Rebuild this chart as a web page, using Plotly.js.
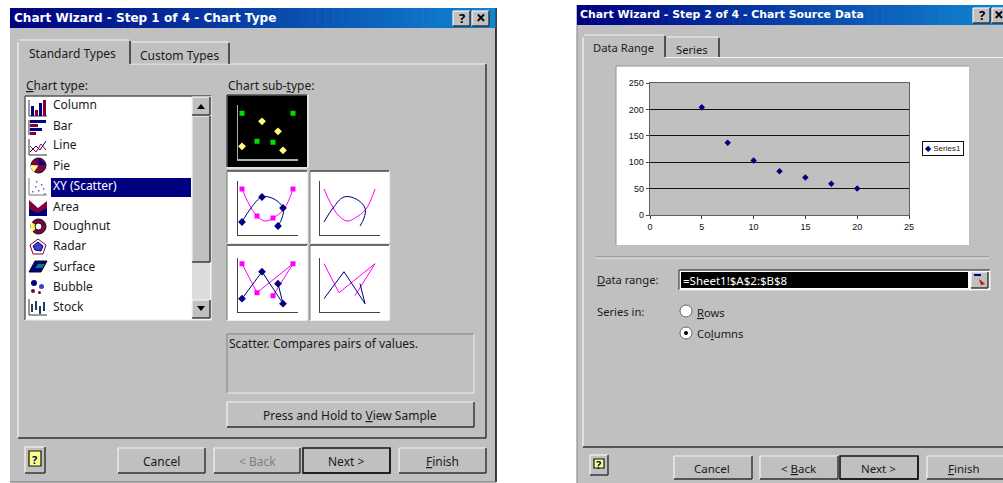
<!DOCTYPE html>
<html><head><meta charset="utf-8">
<script src="https://cdn.plot.ly/plotly-3.0.0.min.js"></script>
<style>html,body{margin:0;padding:0;background:#fff}#c{width:1003px;height:483px}</style>
</head><body><div id="c"></div>
<script>
// ---- data ----
const seriesName = "Series1";
const xValues = [5, 7.5, 10, 12.5, 15, 17.5, 20];
const yValues = [204, 137, 103, 83, 71, 59, 50];
const chartTypes = ["Column","Bar","Line","Pie","XY (Scatter)","Area","Doughnut","Radar","Surface","Bubble","Stock"];
const chartTypeY = [105,125,145,165,185,206,226,246,266,286,306];
const xTicks = [0,5,10,15,20,25];
const yTicks = [0,50,100,150,200,250];
// sub-type thumbnails
const pinkX = [4,19,35,55], pinkY = [46,19,17,46];
const goldX = [4,24,40,45], goldY = [13,38,28,9];
const curveNavyX = [4,13,24,36,45,44,40], curveNavyY = [13,27,38,36,27,17,9];
const curvePinkX = [4,11,19,27,35,46,55], curvePinkY = [46,31,19,14,17,26,46];
const zigNavyX = [4,24,45,40], zigNavyY = [13,40,8,28];
const zigPinkX = [4,19,55,35], zigPinkY = [48,19,48,16];

// ---- helpers ----
const W = 1003, H = 483, F = '"Noto Sans", sans-serif';
const px = x => x / W, py = y => 1 - y / H;
const shapes = [], annotations = [];
function rect(x0,y0,x1,y1,fill,line,lw){ shapes.push({type:'rect',xref:'paper',yref:'paper',layer:'below',
  x0:px(x0),x1:px(x1),y0:py(y1),y1:py(y0),fillcolor:fill||'rgba(0,0,0,0)',line:{color:line||'rgba(0,0,0,0)',width:line?(lw||1):0}}); }
function ln(x0,y0,x1,y1,c,w){ shapes.push({type:'line',xref:'paper',yref:'paper',layer:'below',
  x0:px(x0),x1:px(x1),y0:py(y0),y1:py(y1),line:{color:c,width:w||1}}); }
function circ(x0,y0,x1,y1,fill,line){ shapes.push({type:'circle',xref:'paper',yref:'paper',layer:'below',
  x0:px(x0),x1:px(x1),y0:py(y1),y1:py(y0),fillcolor:fill,line:{color:line||'rgba(0,0,0,0)',width:line?1:0}}); }
function poly(pts,fill,line,closed=true){ let d=pts.map((p,i)=>(i?'L':'M')+px(p[0])+','+py(p[1])).join(' ')+(closed?' Z':'');
  shapes.push({type:'path',xref:'paper',yref:'paper',layer:'below',path:d,fillcolor:fill||'rgba(0,0,0,0)',line:{color:line||'rgba(0,0,0,0)',width:line?1:0}}); }
function txt(x,y,t,o={}){ annotations.push({xref:'paper',yref:'paper',x:px(x),y:py(y),text:t,showarrow:false,
  xanchor:o.anchor||'left',yanchor:'middle',borderpad:0,font:{family:o.family||F,size:o.size||12,color:o.color||'#1a1a1a'}}); }
function raised(x0,y0,x1,y1,strong){ rect(x0,y0,x1,y1,'#c0c0c0');
  ln(x0,y0,x1,y0,'#f4f4f4',1.2); ln(x0,y0,x0,y1,'#f4f4f4',1.2);
  ln(x0,y1,x1,y1,'#303030',1.4); ln(x1,y0,x1,y1,'#303030',1.4);
  if(strong) rect(x0,y0,x1,y1,null,'#111',1.6); }
function sunken(x0,y0,x1,y1,fill){ rect(x0,y0,x1,y1,fill||'#fff');
  ln(x0,y0,x1,y0,'#555',1.4); ln(x0,y0,x0,y1,'#555',1.4);
  ln(x0,y1,x1,y1,'#eee',1.2); ln(x1,y0,x1,y1,'#eee',1.2); }
function gradientBar(x0,x1,y0,y1){ const n=60, a=[0,0,128], b=[16,132,208];
  for(let i=0;i<n;i++){ const t=i/(n-1); const c=a.map((v,k)=>Math.round(v+(b[k]-v)*t));
    rect(x0+(x1-x0)*i/n,y0,x0+(x1-x0)*(i+1)/n+0.5,y1,`rgb(${c})`); } }
function helpIcon(x0,y0,x1,y1){ raised(x0,y0,x1,y1); rect(x0+4,y0+4,x1-4,y1-7,'#ffff80','#111',1.2);
  txt((x0+x1)/2,(y0+y1)/2-1,'<b>?</b>',{anchor:'center',size:11,color:'#000080'}); }
function titleBtns(a,b,y0,y1,bw){ raised(a,y0,a+17,y1); txt(a+8.5,(y0+y1)/2,'<b>?</b>',{anchor:'center',size:13,color:'#000'});
  raised(b,y0,b+(bw||17),y1); txt(b+(bw||17)/2,(y0+y1)/2-1,'<b>×</b>',{anchor:'center',size:17,color:'#000'}); }

// ---- left dialog ----
rect(10,8,496,482,'#c0c0c0'); ln(496,8,496,482,'#111',1.6); ln(10,482,496,482,'#666',1);
gradientBar(10,495,8,28);
txt(13,18,'<b>Chart Wizard - Step 1 of 4 - Chart Type</b>',{size:12.05,color:'#fff',family:'"DejaVu Sans"'});
titleBtns(453,472,11,26);
raised(18,64,486,438);
// tabs
rect(18,40,130,66,'#c0c0c0'); ln(18,42,18,66,'#f4f4f4',1.2); ln(19,40,129,40,'#f4f4f4',1.2); ln(130,41,130,64,'#222',1.4);
rect(131,42,229,63.4,'#c0c0c0'); ln(132,42,228,42,'#f4f4f4',1.2); ln(229,43,229,64,'#222',1.4);
txt(28,54,'Standard Types'); txt(139,55,'Custom Types');
txt(25,85,'<u>C</u>hart type:'); txt(227,85,'Chart sub-<u>t</u>ype:');
// list box
sunken(25,96,211,320);
rect(51,178,191,197,'#000080');
chartTypes.forEach((n,i)=>txt(52,chartTypeY[i],n,{color:i===4?'#fff':'#1a1a1a'}));
// scrollbar
rect(192,97,210,318,'#dcdcdc'); raised(192,116,210,262);
raised(192,97,210,115); poly([[197,109],[205,109],[201,104]],'#000');
raised(192,300,210,318); poly([[197,306],[205,306],[201,311]],'#000');
// list icons
const navy='#000080', mar='#800040';
ln(29,100,29,116,'#333'); ln(29,116,47,116,'#333'); [[31,106,navy],[35,110,mar],[39,103,navy],[43,100,mar]].forEach(b=>rect(b[0],b[1],b[0]+3,116,b[2]));
ln(29,120,29,135,'#333'); rect(30,120,46,123,navy); rect(30,124,38,127,mar); rect(30,128,42,131,navy); rect(30,132,36,135,mar);
ln(29,139,29,155,'#333'); ln(29,155,47,155,'#333'); poly([[30,152],[36,146],[40,150],[46,141]],null,navy,false); poly([[30,146],[36,152],[41,144],[46,150]],null,'#c00040',false);
circ(31,158,46,173,mar,'#111'); poly([[38.5,165.5],[38.5,158],[46,165]],navy); poly([[38.5,165.5],[31,165],[31,168],[34,172]],'#ffff80');
ln(29,178,29,195,'#777'); ln(29,195,47,195,'#777');
[[32,191],[35,186],[38,190],[41,184],[43,188],[36,181],[44,193]].forEach(p=>rect(p[0],p[1],p[0]+1.4,p[1]+1.4,'#5060c0'));
poly([[29,216],[29,200],[38,208],[47,201],[47,216]],mar); poly([[29,216],[29,209],[38,213],[47,208],[47,216]],navy);
circ(31,219,46,234,mar,'#111'); poly([[38.5,226.5],[31,222],[31,233]],'#ffff60'); circ(35,223,42,230,'#fff','#111');
poly([[38,239],[46,245],[43,254],[33,254],[30,245]],null,'#800040'); poly([[38,242],[43,246],[41,251],[35,250],[33,246]],'#4040c0','#000080');
poly([[29,272],[35,261],[47,261],[41,272]],navy,'#111'); poly([[35,268],[38,264],[45,264],[42,268]],'#008080');
circ(31,280,37,286,navy); circ(39,284,44,289,'#4040c0'); circ(31,289,35,293,mar); circ(38,291,41,294,mar);
ln(29,299,29,315,'#333'); ln(29,315,47,315,'#333'); [[32,304,312],[36,301,310],[40,306,314],[44,302,311]].forEach(b=>rect(b[0]-1,b[1],b[0]+1,b[2],'#204060'));
// thumbnail frames
rect(227,95,307,167,'#000'); ln(227,95,307,95,'#555',1.5); ln(227,95,227,167,'#555',1.5); ln(227,168,307,168,'#f0f0f0',1.4); ln(308,95,308,168,'#f0f0f0',1.4);
[[227,171,307,243],[310,171,389,243],[227,245,307,320],[310,245,389,320]].forEach(b=>{ rect(b[0],b[1],b[2],b[3],'#fff');
  ln(b[0],b[1],b[2],b[1],'#444',1.4); ln(b[0],b[1],b[0],b[3],'#777',1); ln(b[0],b[3]+.5,b[2],b[3]+.5,'#eee',1.2); ln(b[2]+.5,b[1],b[2]+.5,b[3],'#eee',1.2); });
// description & preview
rect(227,334,474,393,'#c0c0c0'); ln(227,334,474,334,'#808080',1); ln(227,334,227,393,'#808080',1); ln(227,393,474,393,'#eee',1); ln(474,334,474,393,'#eee',1);
txt(228,343,'Scatter. Compares pairs of values.');
raised(227,402,474,427); txt(350,415,'Press and Hold to <u>V</u>iew Sample',{anchor:'center'});
// buttons
helpIcon(25,447,45,473);
raised(118,448,205,473); txt(161.5,461,'Cancel',{anchor:'center'});
raised(214,448,300,473); txt(257,461,'&lt; Back',{anchor:'center',color:'#808080'});
raised(303,448,390,473,true); txt(346,461,'Next &gt;',{anchor:'center'});
raised(399,448,486,473); txt(442,461,'<u>F</u>inish',{anchor:'center'});

// ---- right dialog ----
rect(577,5,1003,483,'#c0c0c0'); ln(577,5,577,483,'#909090',1.2);
gradientBar(577,1003,5,25);
txt(579,15,'<b>Chart Wizard - Step 2 of 4 - Chart Source Data</b>',{size:10.9,color:'#fff',family:'"DejaVu Sans"'});
titleBtns(973,992,8,23,13);
ln(583,57.5,1003,57.5,'#f4f4f4',1.2); ln(583,57.5,583,447,'#f4f4f4',1.2); ln(583,447,1003,447,'#303030',1.4);
rect(583,35,665,59,'#c0c0c0'); ln(583,37,583,59,'#f4f4f4',1.2); ln(584,35,664,35,'#f4f4f4',1.2); ln(665,36,665,57,'#222',1.4);
rect(666,37,719,57,'#c0c0c0'); ln(667,37,718,37,'#f4f4f4',1.2); ln(719,38,719,57,'#222',1.4);
txt(592,48,'Data Range',{size:11.2}); txt(675,49,'Series',{size:11.2});
rect(616,66,969,245,'#fff'); ln(616,66,969,66,'#909090',1); ln(616,66,616,245,'#909090',1);
// sample plot background (in data units)
shapes.push({type:'rect',xref:'x',yref:'y',layer:'below',x0:0,x1:25,y0:0,y1:250,fillcolor:'#c0c0c0',line:{width:0}});
// legend box as text
annotations.push({xref:'paper',yref:'paper',x:px(942.5),y:py(148.5),xanchor:'center',yanchor:'middle',showarrow:false,
  text:'<span style="color:#000080">◆</span> '+seriesName,bgcolor:'#fff',bordercolor:'#111',borderwidth:1,borderpad:2,
  font:{family:'"Liberation Sans"',size:8,color:'#222'}});
ln(596,257,989,257,'#808080',1); ln(596,258,989,258,'#eee',1);
txt(596,279,'<u>D</u>ata range:',{size:11.2});
sunken(679,270,990,290,'#fff'); rect(681,272,968,288,'#000');
txt(682,280,'=Sheet1!$A$2:$B$8',{color:'#fff',size:11.5});
raised(971,272,988,288); ln(974,275,981,275,navy,2); poly([[979,279],[985,284],[981,285]],'#e00000');
txt(596,311,'Series in:',{size:11.2});
circ(680,305,692,317,'#fff','#666');
circ(680,327,692,339,'#fff','#666'); circ(684,331,688,335,'#000');
txt(696,312,'<u>R</u>ows',{size:11.2}); txt(696,333,'Co<u>l</u>umns',{size:11.2});
helpIcon(590,455,608,475);
raised(674,456,752,479); txt(712,468,'Cancel',{anchor:'center',size:11.5});
raised(760,456,838,479); txt(799,468,'&lt; <u>B</u>ack',{anchor:'center',size:11.5});
raised(840,456,918,479,true); txt(878,468,'Next &gt;',{anchor:'center',size:11.5});
raised(927,456,1004,479); txt(964,468,'<u>F</u>inish',{anchor:'center',size:11.5});

// ---- axes & traces ----
const base = {showgrid:false,zeroline:false,showticklabels:false,ticks:'',showline:true,fixedrange:true};
function thumbAxes(n,x0,yOrigin,axisColor){
  const xa='xaxis'+n, ya='yaxis'+n;
  layout[xa]={...base,domain:[px(x0),px(x0+60)],range:[0,60],anchor:'y'+n,linecolor:axisColor,linewidth:1.3};
  layout[ya]={...base,domain:[py(yOrigin),py(yOrigin-54)],range:[0,54],anchor:'x'+n,linecolor:axisColor,linewidth:1.3};
}
const tickF = {family:'"Liberation Sans"',size:9,color:'#111'};
const layout = {
  width:W,height:H,margin:{l:0,r:0,t:0,b:0},paper_bgcolor:'#fff',plot_bgcolor:'rgba(0,0,0,0)',showlegend:false,
  shapes,annotations,
  xaxis:{domain:[px(650),px(909)],range:[0,25],tickvals:xTicks,ticks:'outside',ticklen:3,tickcolor:'#444',showgrid:false,zeroline:false,
    showline:true,linecolor:'#606060',linewidth:1.3,mirror:true,fixedrange:true,tickfont:tickF,anchor:'y'},
  yaxis:{domain:[py(215),py(83)],range:[0,250],tickvals:yTicks,ticks:'outside',ticklen:3,tickcolor:'#444',showgrid:true,gridcolor:'#111',gridwidth:1.2,zeroline:false,
    showline:true,linecolor:'#606060',linewidth:1.3,mirror:true,fixedrange:true,tickfont:tickF,anchor:'x'}
};
thumbAxes(2,238,159.3,'#b0b0b0');
thumbAxes(3,238,235,'#444');
thumbAxes(4,320,235,'#444');
thumbAxes(5,238,311.7,'#444');
thumbAxes(6,320,311.7,'#444');
const PINK='#ff00ff', NAVY='#000080', G='#00e000', Y='#ffff80';
function pts(x,y,n,sym,col,sz){return {x,y,xaxis:'x'+n,yaxis:'y'+n,type:'scatter',mode:'markers',marker:{symbol:sym,color:col,size:sz},hoverinfo:'skip'};}
function lineT(x,y,n,col,shape,withMarkers,sym){return {x,y,xaxis:'x'+n,yaxis:'y'+n,type:'scatter',mode:withMarkers?'lines+markers':'lines',
  line:{color:col,width:1,shape:shape,smoothing:1.1},marker:{symbol:sym,color:col,size:sym==='square'?5:6},hoverinfo:'skip'};}
const traces = [
  {name:seriesName,x:xValues,y:yValues,type:'scatter',mode:'markers',marker:{symbol:'diamond',color:'#000080',size:5}},
  pts(pinkX,[46,18,17,46],2,'square',G,5), pts(goldX,goldY,2,'diamond',Y,6),
  lineT(curvePinkX,curvePinkY,3,PINK,'spline',false), pts(pinkX,[46,19,17,46],3,'square',PINK,5),
  lineT(curveNavyX,curveNavyY,3,NAVY,'spline',false), pts([4,24,45,40],[13,38,27,9],3,'diamond',NAVY,6),
  lineT(curvePinkX,curvePinkY,4,PINK,'spline',false), lineT(curveNavyX,curveNavyY,4,NAVY,'spline',false),
  lineT(zigPinkX,zigPinkY,5,PINK,'linear',true,'square'), lineT(zigNavyX,zigNavyY,5,NAVY,'linear',true,'diamond'),
  lineT(zigPinkX,zigPinkY,6,PINK,'linear',false), lineT(zigNavyX,zigNavyY,6,NAVY,'linear',false)
];
Plotly.newPlot('c',traces,layout,{displayModeBar:false,staticPlot:true});
</script></body></html>
